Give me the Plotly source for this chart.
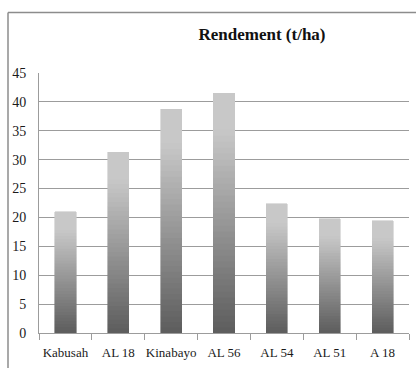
import plotly.graph_objects as go

# Rendement par variété (t/ha)
varietes = ["Kabusah", "AL 18", "Kinabayo", "AL 56", "AL 54", "AL 51", "A 18"]
rendement = [21.0, 31.3, 38.7, 41.5, 22.4, 19.8, 19.4]
y_ticks = [0, 5, 10, 15, 20, 25, 30, 35, 40, 45]

W, H = 416, 368
ML, MR, MT, MB = 39, 7, 73, 35
PW, PH = W - ML - MR, H - MT - MB

FONT = "Liberation Serif, Times New Roman, serif"
GRID = "#9c9c9c"

# Vertical gradient: each bar is split into equal slices, dark at the base, light at the top
N_SLICES = 40
dark = (92, 92, 92)
light = (200, 200, 200)


def mix(t):
    c = [round(d + (l - d) * t) for d, l in zip(dark, light)]
    return f"rgb({c[0]},{c[1]},{c[2]})"


fig = go.Figure()
for k in range(N_SLICES):
    t = min(1.0, (k + 0.5) / N_SLICES / 0.85)
    col = mix(t)
    fig.add_trace(go.Bar(
        x=varietes,
        y=[v / N_SLICES for v in rendement],
        marker=dict(color=col, line=dict(color=col, width=0.6)),
        showlegend=False,
        hoverinfo="skip",
    ))


def px_x(p):
    return (p - ML) / PW


def px_y(p):
    return (H - MB - p) / PH


# outer frame of the chart area (left and top edges)
frame = dict(type="line", xref="paper", yref="paper",
             line=dict(color="#8c8c8c", width=1.5))
fig.add_shape(**frame, x0=px_x(8), x1=px_x(8), y0=px_y(12.5), y1=px_y(H + 5))
fig.add_shape(**frame, x0=px_x(8), x1=px_x(W + 5), y0=px_y(12.5), y1=px_y(12.5))

fig.update_layout(
    width=W, height=H,
    margin=dict(l=ML, r=MR, t=MT, b=MB, autoexpand=False),
    paper_bgcolor="white", plot_bgcolor="white",
    barmode="stack", bargap=0.6,
    font=dict(family=FONT, size=13, color="#1a1a1a"),
    title=dict(text="<b>Rendement (t/ha)</b>", x=262 / W, xanchor="center",
               y=1 - 34 / H, yanchor="middle",
               font=dict(family=FONT, size=17, color="#111")),
)
fig.update_xaxes(
    type="category", showgrid=False, automargin=False,
    showline=True, linecolor=GRID, linewidth=1,
    ticks="outside", tickson="boundaries", ticklen=6, tickcolor=GRID,
    tickangle=0, ticklabelstandoff=7,
    tickfont=dict(family=FONT, size=13, color="#1a1a1a"),
)
fig.update_yaxes(
    range=[0, 45], tickvals=y_ticks, ticktext=[str(v) for v in y_ticks],
    showgrid=True, gridcolor=GRID, gridwidth=1, automargin=False,
    showline=True, linecolor=GRID, linewidth=1,
    zeroline=False, ticks="", ticklabelstandoff=9,
    tickfont=dict(family=FONT, size=14, color="#1a1a1a"),
)

fig.write_html("out.html")
